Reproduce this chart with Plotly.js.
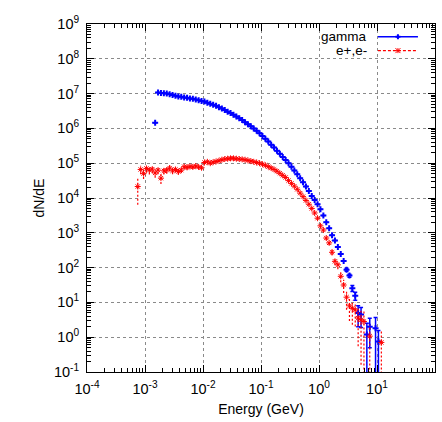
<!DOCTYPE html>
<html><head><meta charset="utf-8">
<script src="https://cdn.plot.ly/plotly-3.0.1.min.js"></script>
<style>html,body{margin:0;padding:0;background:#fff}#chart{width:442px;height:422px}</style>
</head><body><div id="chart"></div>
<script>
// ---- data ----
const gammaE = [1.496e-3,1.679e-3,1.884e-3,2.114e-3,2.371e-3,2.661e-3,2.985e-3,3.350e-3,3.758e-3,4.217e-3,
  4.732e-3,5.309e-3,5.957e-3,6.683e-3,7.499e-3,8.414e-3,9.441e-3,1.059e-2,1.189e-2,1.334e-2,
  1.496e-2,1.679e-2,1.884e-2,2.114e-2,2.371e-2,2.661e-2,2.985e-2,3.350e-2,3.758e-2,4.217e-2,
  4.732e-2,5.309e-2,5.957e-2,6.683e-2,7.499e-2,8.414e-2,9.441e-2,0.1059,0.1189,0.1334,
  0.1496,0.1679,0.1884,0.2114,0.2371,0.2661,0.2985,0.3350,0.3758,0.4217,
  0.4732,0.5309,0.5957,0.6683,0.7499,0.8414,0.9441,1.059,1.189,1.334,
  1.496,1.679,1.884,2.114,2.371,2.661,2.985,3.350,3.758,4.217,
  4.732,5.309,6.683,7.499,9.441,10.59];
const gammaN = [1.445e6,1.072e7,1.047e7,1.023e7,1.000e7,9.550e6,9.120e6,8.710e6,8.318e6,8.128e6,
  7.762e6,7.586e6,7.244e6,7.079e6,6.761e6,6.457e6,6.166e6,5.888e6,5.495e6,5.129e6,
  4.786e6,4.467e6,4.074e6,3.715e6,3.388e6,3.020e6,2.754e6,2.455e6,2.188e6,1.950e6,
  1.738e6,1.514e6,1.318e6,1.148e6,1.000e6,8.511e5,7.244e5,6.026e5,5.012e5,4.169e5,
  3.388e5,2.818e5,2.291e5,1.862e5,1.514e5,1.230e5,1.000e5,7.943e4,6.166e4,4.786e4,
  3.715e4,2.818e4,2.138e4,1.585e4,1.148e4,8.710e3,6.607e3,4.786e3,3.162e3,1.995e3,
  1.349e3,851.1,602.6,389.0,245.5,154.9,87.10,58.88,25.70,15.49,
  5.0,4.5,1.2,2.0,1.8,0.75];
const gammaErr = [0,0,0,0,0,0,0,0,0,0, 0,0,0,0,0,0,0,0,0,0, 0,0,0,0,0,0,0,0,0,0,
  0,0,0,0,0,0,0,0,0,0, 0,0,0,0,0,0,0,0,0,0, 0,0,0,0,0,0,0,0,0,0,
  0,0,0,0,0,0,8,6,5,4, 3,2.6,1.3,1.5,1.9,0.8];

const epemE = [7.499e-4,8.414e-4,9.441e-4,1.059e-3,1.189e-3,1.334e-3,
  1.496e-3,1.679e-3,1.884e-3,2.114e-3,2.371e-3,2.661e-3,2.985e-3,3.350e-3,3.758e-3,4.217e-3,
  4.732e-3,5.309e-3,5.957e-3,6.683e-3,7.499e-3,8.414e-3,9.441e-3,1.059e-2,1.189e-2,1.334e-2,
  1.496e-2,1.679e-2,1.884e-2,2.114e-2,2.371e-2,2.661e-2,2.985e-2,3.350e-2,3.758e-2,4.217e-2,
  4.732e-2,5.309e-2,5.957e-2,6.683e-2,7.499e-2,8.414e-2,9.441e-2,0.1059,0.1189,0.1334,
  0.1496,0.1679,0.1884,0.2114,0.2371,0.2661,0.2985,0.3350,0.3758,0.4217,
  0.4732,0.5309,0.5957,0.6683,0.7499,0.8414,0.9441,1.059,1.189,1.334,
  1.496,1.679,1.884,2.114,2.371,2.661,2.985,3.350,3.758,4.217,
  4.732,5.309,5.957,7.499,11.89];
const epemN = [2.138e4,6.607e4,5.012e4,7.079e4,6.310e4,6.761e4,
  5.248e4,6.310e4,3.715e4,6.026e4,6.310e4,7.244e4,6.026e4,6.607e4,5.754e4,6.310e4,
  7.943e4,7.586e4,8.128e4,7.762e4,8.318e4,7.762e4,7.413e4,1.047e5,1.096e5,1.000e5,
  1.072e5,1.122e5,1.175e5,1.259e5,1.318e5,1.349e5,1.380e5,1.380e5,1.349e5,1.318e5,
  1.288e5,1.259e5,1.202e5,1.148e5,1.096e5,1.047e5,1.000e5,9.333e4,8.710e4,7.943e4,
  7.244e4,6.607e4,5.888e4,5.129e4,4.467e4,3.890e4,3.162e4,2.630e4,2.188e4,1.778e4,
  1.380e4,1.096e4,8.511e3,6.607e3,5.012e3,3.715e3,2.630e3,1.585e3,1.202e3,707.9,
  512.9,275.4,151.4,120.2,56.23,31.62,14.13,7.943,6.761,6.026,
  3.548,3.162,2.818,1.072,0.708];
const epemErr = [1.5e4,1.8e4,1.5e4,1.8e4,1.6e4,1.6e4,
  1.4e4,1.5e4,1.2e4,1.3e4,1.3e4,1.4e4,1.2e4,1.2e4,1.1e4,1.1e4,
  1.2e4,1.1e4,1.1e4,1.0e4,1.0e4,9e3,9e3,1.0e4,9e3,8e3,
  8e3,8e3,8e3,8e3,8e3,7e3,7e3,7e3,6e3,6e3,
  6e3,5e3,5e3,5e3,4e3,4e3,4e3,3.5e3,3e3,3e3,
  2.5e3,2.5e3,2e3,2e3,1.8e3,1.5e3,1.3e3,1.1e3,900,800,
  650,550,450,380,320,260,200,150,120,90,
  70,50,35,30,18,13,8,5,4.5,4,
  3,3,2.9,1.2,0.75];

const seriesNames = ['gamma', 'e+,e-'];
const xTitle = 'Energy (GeV)';
const yTitle = 'dN/dE';
const xTickVals = [1e-4, 1e-3, 1e-2, 1e-1, 1e0, 1e1, 1e2];
const xTickText = ['10<sup>-4</sup>', '10<sup>-3</sup>', '10<sup>-2</sup>', '10<sup>-1</sup>',
  '10<sup>0</sup>', '10<sup>1</sup>', '10<sup>2</sup>'];
const yTickVals = [1e-1, 1e0, 1e1, 1e2, 1e3, 1e4, 1e5, 1e6, 1e7, 1e8, 1e9];
const yTickText = ['10<sup>-1</sup>', '10<sup>0</sup>', '10<sup>1</sup>', '10<sup>2</sup>',
  '10<sup>3</sup>', '10<sup>4</sup>', '10<sup>5</sup>', '10<sup>6</sup>', '10<sup>7</sup>',
  '10<sup>8</sup>', '10<sup>9</sup>'];

// ---- build dashed error segments for e+,e- ----
const errX = [], errY = [];
epemE.forEach((e, i) => {
  const lo = epemN[i] - epemErr[i];
  errX.push(e, e, null);
  errY.push(lo > 0 ? lo : 1e-3, epemN[i] + epemErr[i], null);
});

const BLUE = 'rgb(0,0,255)', RED = 'rgb(255,0,0)';
const font = 'Liberation Sans, Arial, Helvetica, sans-serif';

const traces = [
  {x: gammaE, y: gammaN, name: seriesNames[0], type: 'scatter', mode: 'markers',
   marker: {symbol: 'cross', size: 5, color: BLUE},
   error_y: {type: 'data', array: gammaErr, visible: true, color: BLUE, thickness: 1.5, width: 2},
   showlegend: false, hoverinfo: 'skip'},
  {x: errX, y: errY, type: 'scatter', mode: 'lines',
   line: {color: RED, width: 1.2, dash: '2px,2px'}, showlegend: false, hoverinfo: 'skip'},
  {x: epemE, y: epemN, name: seriesNames[1], type: 'scatter', mode: 'markers',
   marker: {symbol: 'asterisk-open', size: 5, color: RED, line: {color: RED, width: 1}},
   showlegend: false, hoverinfo: 'skip'}
];

const axisCommon = {
  type: 'log', tickmode: 'array',
  ticks: 'inside', ticklen: 7, tickwidth: 1, tickcolor: '#000',
  mirror: 'allticks', showline: true, linecolor: '#000', linewidth: 1,
  showgrid: true, gridcolor: '#8a8a8a', griddash: 'dot', gridwidth: 1, zeroline: false,
  minor: {ticks: 'inside', ticklen: 4, dtick: 'D1', tickcolor: '#000', showgrid: false},
  tickfont: {family: font, size: 14.5, color: '#000'}
};

// legend (gnuplot style: text on the left, sample on the right)
const legY = [0.9635, 0.9235];
const layout = {
  width: 442, height: 422,
  margin: {l: 87, r: 7, t: 24, b: 50},
  paper_bgcolor: '#fff', plot_bgcolor: '#fff',
  font: {family: font, color: '#000'},
  showlegend: false,
  xaxis: Object.assign({}, axisCommon, {range: [-4, 2], tickvals: xTickVals, ticktext: xTickText,
    ticklabelstandoff: 4,
    title: {text: xTitle, font: {family: font, size: 14, color: '#000'}, standoff: 7}}),
  yaxis: Object.assign({}, axisCommon, {range: [-1, 9], tickvals: yTickVals, ticktext: yTickText,
    ticklabelstandoff: 4,
    title: {text: yTitle, font: {family: font, size: 14, color: '#000'}, standoff: 6}}),
  annotations: seriesNames.map((n, i) => ({
    xref: 'paper', yref: 'paper', x: 0.807, y: legY[i], xanchor: 'right', yanchor: 'middle',
    text: n, showarrow: false, borderpad: 0, font: {family: font, size: 13.5, color: '#000'}
  })),
  shapes: [
    {type: 'line', xref: 'paper', yref: 'paper', x0: 0.836, x1: 0.951, y0: legY[0], y1: legY[0],
     line: {color: BLUE, width: 1.5}},
    {type: 'line', xref: 'paper', yref: 'paper', x0: 0.836, x1: 0.951, y0: legY[1], y1: legY[1],
     line: {color: RED, width: 1.2, dash: '3px,2px'}},
    {type: 'path', xref: 'paper', yref: 'paper', xsizemode: 'pixel', ysizemode: 'pixel',
     xanchor: 0.8935, yanchor: legY[0], path: 'M-2.5,0H2.5M0,-2.5V2.5', line: {color: BLUE, width: 2}},
    {type: 'path', xref: 'paper', yref: 'paper', xsizemode: 'pixel', ysizemode: 'pixel',
     xanchor: 0.8935, yanchor: legY[1], path: 'M-2.5,-2.5L2.5,2.5M-2.5,2.5L2.5,-2.5M-2.5,0H2.5M0,-2.5V2.5', line: {color: RED, width: 1}}
  ]
};

Plotly.newPlot('chart', traces, layout, {staticPlot: true, displayModeBar: false});
</script>
</body></html>
